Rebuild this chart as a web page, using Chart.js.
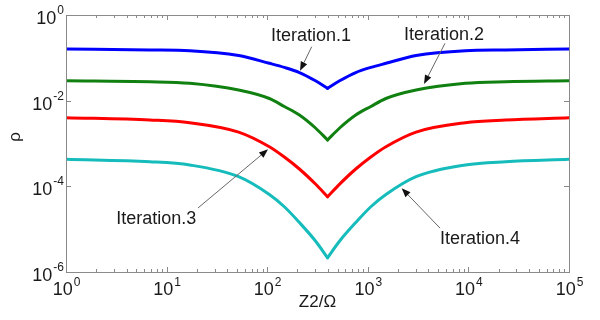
<!DOCTYPE html>
<html>
<head>
<meta charset="utf-8">
<script src="https://cdn.jsdelivr.net/npm/chart.js@4.4.0/dist/chart.umd.min.js"></script>
<style>
html, body { margin: 0; padding: 0; background: #fff; }
#wrap { width: 600px; height: 320px; }
</style>
</head>
<body>
<div id="wrap"><canvas id="rhoChart" width="600" height="320"></canvas></div>
<script>
// values (log-log)
var zValues  = [1, 6.8, 17, 52, 105, 148, 209, 302, 398, 525, 759, 1072, 1514, 3020, 9333, 23442, 100000];
var rhoIter1 = [0.1607, 0.1524, 0.1467, 0.1133, 0.0745, 0.0598, 0.0454, 0.0291, 0.0194, 0.0291, 0.0454, 0.0598, 0.0745, 0.1133, 0.1467, 0.1524, 0.1607];
var rhoIter2 = [0.0292, 0.0277, 0.0254, 0.01774, 0.01123, 0.00731, 0.00462, 0.0023, 0.00121, 0.0023, 0.00462, 0.00731, 0.01123, 0.01774, 0.0254, 0.0277, 0.0292];
var rhoIter3 = [0.0040, 0.00353, 0.00306, 0.00185, 0.000841, 0.000484, 0.000254, 0.000113, 0.0000573, 0.000113, 0.000254, 0.000484, 0.000841, 0.00185, 0.00306, 0.00353, 0.0040];
var rhoIter4 = [0.000428, 0.000376, 0.000315, 0.000168, 0.0000644, 0.0000334, 0.0000143, 0.00000529, 0.00000215, 0.00000529, 0.0000143, 0.0000334, 0.0000644, 0.000168, 0.000315, 0.000376, 0.000428];
var seriesNames = ['Iteration.1', 'Iteration.2', 'Iteration.3', 'Iteration.4'];
var seriesColors = ['#0000ff', '#108010', '#ff0000', '#16bcbc'];

var xTickExps = [0, 1, 2, 3, 4, 5];
var yTickExps = [0, -2, -4, -6];

// label text position, arrow start, arrow tip (data units)
var noteText  = seriesNames;
var noteTextX = [272, 5716, 7.9, 13030];
var noteTextY = [0.32, 0.34, 1.73e-5, 5.89e-6];
var noteFromX = [277, 5850, 20.5, 5220];
var noteFromY = [0.182, 0.218, 3.12e-5, 1.06e-5];
var noteToX   = [212, 3620, 102, 2173];
var noteToY   = [0.0501, 0.0245, 7.32e-4, 9.0e-5];

// each curve is drawn as two branches meeting at its minimum (sharp V)
function branch(ys, from, to) {
    var pts = [];
    for (var i = from; i <= to; i++) {
        pts.push({ x: zValues[i], y: ys[i] });
    }
    return pts;
}

var allSeries = [rhoIter1, rhoIter2, rhoIter3, rhoIter4];
var datasets = [];
for (var s = 0; s < allSeries.length; s++) {
    var ys = allSeries[s];
    var k = ys.indexOf(Math.min.apply(null, ys));
    [branch(ys, 0, k), branch(ys, k, ys.length - 1)].forEach(function (pts) {
        datasets.push({
            label: seriesNames[s],
            data: pts,
            borderColor: seriesColors[s],
            borderWidth: 3,
            borderJoinStyle: 'round',
            borderCapStyle: 'round',
            pointRadius: 0,
            cubicInterpolationMode: 'monotone',
            fill: false
        });
    });
}

var FONT = '"Liberation Sans", Arial, sans-serif';

function drawPow(ctx, exp, x, baseY, expY, align) {
    var base = '10';
    var ex = String(exp);
    ctx.font = '18px ' + FONT;
    var wb = ctx.measureText(base).width;
    ctx.font = '12px ' + FONT;
    var we = ctx.measureText(ex).width;
    var start = align === 'center' ? x - (wb + we) / 2 : x - (wb + we);
    ctx.textAlign = 'left';
    ctx.textBaseline = 'alphabetic';
    ctx.font = '18px ' + FONT;
    ctx.fillText(base, start, baseY);
    ctx.font = '12px ' + FONT;
    ctx.fillText(ex, start + wb + 1, expY);
}

var matlabAxes = {
    id: 'matlabAxes',
    afterDraw: function (chart) {
        var ctx = chart.ctx;
        var a = chart.chartArea;
        var xs = chart.scales.x, ys = chart.scales.y;
        ctx.save();

        // frame
        ctx.strokeStyle = '#8a8a8a';
        ctx.lineWidth = 1;
        ctx.strokeRect(Math.round(a.left) + 0.5, Math.round(a.top) + 0.5,
            Math.round(a.right - a.left), Math.round(a.bottom - a.top));

        // x ticks, inside, top and bottom
        ctx.beginPath();
        for (var e = 0; e < 5; e++) {
            for (var m = 1; m <= 9; m++) {
                var px = Math.round(xs.getPixelForValue(m * Math.pow(10, e))) + 0.5;
                var len = m === 1 ? 5 : 3;
                ctx.moveTo(px, a.bottom);
                ctx.lineTo(px, a.bottom - len);
                ctx.moveTo(px, a.top);
                ctx.lineTo(px, a.top + len);
            }
        }
        // y ticks, inside, left and right
        yTickExps.forEach(function (ex) {
            var py = Math.round(ys.getPixelForValue(Math.pow(10, ex))) + 0.5;
            ctx.moveTo(a.left, py);
            ctx.lineTo(a.left + 5, py);
            ctx.moveTo(a.right, py);
            ctx.lineTo(a.right - 5, py);
        });
        ctx.stroke();

        // tick labels
        ctx.fillStyle = '#1a1a1a';
        xTickExps.forEach(function (ex) {
            var px = xs.getPixelForValue(Math.pow(10, ex));
            drawPow(ctx, ex, px, 295, 286, 'center');
        });
        yTickExps.forEach(function (ex) {
            var py = ys.getPixelForValue(Math.pow(10, ex));
            drawPow(ctx, ex, 63, py + 9, py - 1, 'right');
        });

        // axis titles
        ctx.font = '17px ' + FONT;
        ctx.textAlign = 'center';
        ctx.textBaseline = 'middle';
        ctx.fillText('Z2/\u03A9', (a.left + a.right) / 2, 302);
        ctx.save();
        ctx.translate(15, 137);
        ctx.rotate(-Math.PI / 2);
        ctx.fillText('\u03C1', 0, 0);
        ctx.restore();

        // annotations with arrows
        for (var i = 0; i < noteText.length; i++) {
            var tx = xs.getPixelForValue(noteTextX[i]);
            var ty = ys.getPixelForValue(noteTextY[i]);
            var fx = xs.getPixelForValue(noteFromX[i]);
            var fy = ys.getPixelForValue(noteFromY[i]);
            var hx = xs.getPixelForValue(noteToX[i]);
            var hy = ys.getPixelForValue(noteToY[i]);
            ctx.fillStyle = '#1a1a1a';
            ctx.font = '18px ' + FONT;
            ctx.textAlign = 'center';
            ctx.textBaseline = 'middle';
            ctx.fillText(noteText[i], tx, ty);

            var ang = Math.atan2(hy - fy, hx - fx);
            var hl = 9, hw = 3.5;
            var bx = hx - hl * Math.cos(ang), by = hy - hl * Math.sin(ang);
            ctx.strokeStyle = '#666';
            ctx.lineWidth = 1;
            ctx.beginPath();
            ctx.moveTo(fx, fy);
            ctx.lineTo(bx, by);
            ctx.stroke();
            ctx.fillStyle = '#111';
            ctx.beginPath();
            ctx.moveTo(hx, hy);
            ctx.lineTo(bx + hw * Math.sin(ang), by - hw * Math.cos(ang));
            ctx.lineTo(bx - hw * Math.sin(ang), by + hw * Math.cos(ang));
            ctx.closePath();
            ctx.fill();
        }
        ctx.restore();
    }
};

var ctx = document.getElementById('rhoChart').getContext('2d');
var rhoChart = new Chart(ctx, {
    type: 'line',
    data: { datasets: datasets },
    options: {
        responsive: false,
        animation: false,
        devicePixelRatio: 1,
        layout: { padding: { left: 66, right: 31, top: 15, bottom: 48 } },
        plugins: {
            legend: { display: false },
            tooltip: { enabled: false }
        },
        scales: {
            x: {
                type: 'logarithmic',
                min: 1,
                max: 100000,
                ticks: { display: false },
                grid: { display: false, drawTicks: false },
                border: { display: false }
            },
            y: {
                type: 'logarithmic',
                min: 1e-6,
                max: 1,
                ticks: { display: false },
                grid: { display: false, drawTicks: false },
                border: { display: false }
            }
        }
    },
    plugins: [matlabAxes]
});
</script>
</body>
</html>
